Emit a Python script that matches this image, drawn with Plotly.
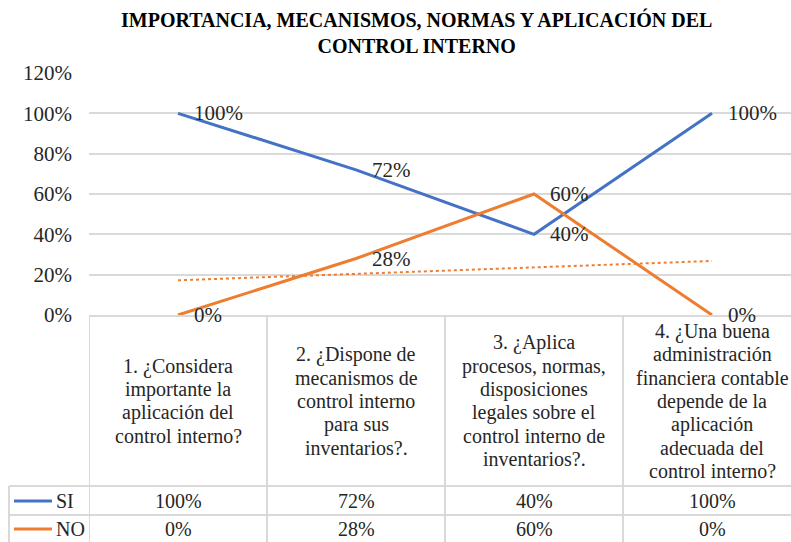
import numpy as np
import plotly.graph_objects as go

# ---------------- data ----------------
categories = [
    "1. ¿Considera|importante la|aplicación del|control interno?",
    "2. ¿Dispone de|mecanismos de|control interno|para sus|inventarios?.",
    "3. ¿Aplica|procesos, normas,|disposiciones|legales sobre el|control interno de|inventarios?.",
    "4. ¿Una buena|administración|financiera contable|depende de la|aplicación|adecuada del|control interno?",
]
x_idx = [1, 2, 3, 4]
si_values = [1.00, 0.72, 0.40, 1.00]
no_values = [0.00, 0.28, 0.60, 0.00]
series_names = ["SI", "NO"]
y_tick_values = [0, 0.2, 0.4, 0.6, 0.8, 1.0, 1.2]
title_text = "IMPORTANCIA, MECANISMOS, NORMAS Y APLICACIÓN DEL<br>CONTROL INTERNO"

# ---------------- style ----------------
W, H = 791, 542
ML, MR, MT, MB = 89, 0, 73, 227
PW, PH = W - ML - MR, H - MT - MB
BLUE = "#4472C4"
ORANGE = "#ED7D31"
GRID = "#d9d9d9"
TXT = "#262626"
FONT = "Liberation Serif, Times New Roman, DejaVu Serif, serif"
CAT_W = 178.0  # pixel width of one category


def px_x(p):
    return (p - ML) / PW


def px_y(p):
    return (H - MB - p) / PH


x_range = [0.5, 0.5 + PW / CAT_W]

fig = go.Figure()
fig.add_trace(go.Scatter(x=x_idx, y=si_values, mode="lines", name=series_names[0],
                         line=dict(color=BLUE, width=3), cliponaxis=False))
fig.add_trace(go.Scatter(x=x_idx, y=no_values, mode="lines", name=series_names[1],
                         line=dict(color=ORANGE, width=3), cliponaxis=False))
# linear trend of NO
coef = np.polyfit(x_idx, no_values, 1)
trend = np.polyval(coef, x_idx)
fig.add_trace(go.Scatter(x=x_idx, y=trend, mode="lines", name="Lineal (NO)",
                         line=dict(color=ORANGE, width=2, dash="dot")))

annotations = []
shapes = []

# data labels
for vals in (si_values, no_values):
    for xi, v in zip(x_idx, vals):
        annotations.append(dict(x=xi, y=v, xref="x", yref="y", text=f"{v:.0%}",
                                showarrow=False, xanchor="left", yanchor="middle",
                                xshift=14, font=dict(family=FONT, size=21, color=TXT)))

# title
annotations.append(dict(x=px_x(416), y=px_y(32), xref="paper", yref="paper",
                        text=f"<b>{title_text}</b>", showarrow=False,
                        xanchor="center", yanchor="middle",
                        font=dict(family=FONT, size=20, color="#000000")))

# header row texts (category labels)
LINE_H = 23.3
HEADER_CY = 401
for xi, cat in zip(x_idx, categories):
    lines = cat.split("|")
    n = len(lines)
    for j, ln in enumerate(lines):
        cy = HEADER_CY + (j - (n - 1) / 2) * LINE_H
        annotations.append(dict(x=xi, y=px_y(cy), xref="x", yref="paper", text=ln,
                                showarrow=False, xanchor="center", yanchor="middle",
                                font=dict(family=FONT, size=20, color=TXT)))

# value rows
ROW_Y = [501, 529]
for vals, ry in zip((si_values, no_values), ROW_Y):
    for xi, v in zip(x_idx, vals):
        annotations.append(dict(x=xi, y=px_y(ry), xref="x", yref="paper", text=f"{v:.0%}",
                                showarrow=False, xanchor="center", yanchor="middle",
                                font=dict(family=FONT, size=20, color=TXT)))

# legend keys in the table
for name, col, ry in zip(series_names, (BLUE, ORANGE), ROW_Y):
    shapes.append(dict(type="line", xref="paper", yref="paper",
                       x0=px_x(14), x1=px_x(52), y0=px_y(ry), y1=px_y(ry),
                       line=dict(color=col, width=3)))
    annotations.append(dict(x=px_x(54), y=px_y(ry), xref="paper", yref="paper", text=name,
                            showarrow=False, xanchor="left", yanchor="middle",
                            font=dict(family=FONT, size=20, color=TXT)))

# table grid lines
for b in [0.5, 1.5, 2.5, 3.5]:
    shapes.append(dict(type="line", xref="x", yref="paper", x0=b, x1=b,
                       y0=0, y1=px_y(H + 5), line=dict(color=GRID, width=2)))
for hy in [486, 515]:
    shapes.append(dict(type="line", xref="paper", yref="paper", x0=px_x(9), x1=px_x(W + 5),
                       y0=px_y(hy), y1=px_y(hy), line=dict(color=GRID, width=2)))
shapes.append(dict(type="line", xref="paper", yref="paper", x0=px_x(9), x1=px_x(9),
                   y0=px_y(486), y1=px_y(H + 5), line=dict(color=GRID, width=2)))

fig.update_layout(
    width=W, height=H,
    margin=dict(l=ML, r=MR, t=MT, b=MB, pad=0),
    paper_bgcolor="white", plot_bgcolor="white",
    showlegend=False,
    annotations=annotations, shapes=shapes,
    xaxis=dict(range=x_range, showgrid=False, zeroline=False, showticklabels=False,
               showline=True, linecolor=GRID, linewidth=2, ticks=""),
    yaxis=dict(range=[0, 1.2], tickvals=y_tick_values, tickformat=".0%",
               showgrid=True, gridcolor=GRID, gridwidth=1.5, zeroline=False,
               showline=False, ticks="", ticklabelstandoff=16,
               tickfont=dict(family=FONT, size=21, color=TXT)),
)

fig.write_html("out.html", config={"displayModeBar": False},
               post_script="document.body.style.margin='0px';document.body.style.overflow='hidden';")
